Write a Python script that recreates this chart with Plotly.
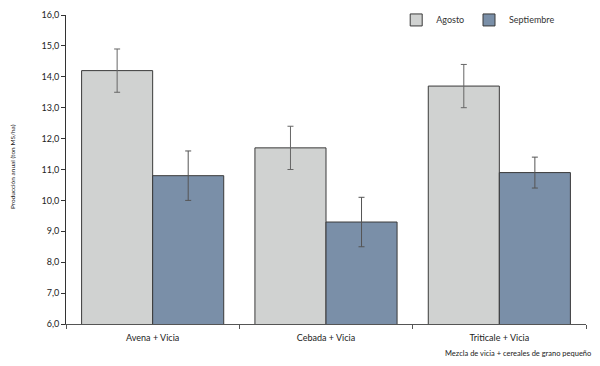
import plotly.graph_objects as go

categories = ["Avena + Vicia", "Cebada + Vicia", "Triticale + Vicia"]
agosto = [14.2, 11.7, 13.7]
agosto_err = [0.7, 0.7, 0.7]
septiembre = [10.8, 9.3, 10.9]
septiembre_err = [0.8, 0.8, 0.5]
y_ticks = [6, 7, 8, 9, 10, 11, 12, 13, 14, 15, 16]

font = dict(family="Lato, Open Sans, sans-serif", size=9, color="#222")

fig = go.Figure()
fig.add_trace(go.Bar(
    x=categories, y=agosto, name="Agosto", legend="legend",
    marker=dict(color="#d0d2d1", line=dict(color="#3a3a3a", width=1)),
    error_y=dict(type="data", array=agosto_err, color="#666", thickness=1, width=3),
))
fig.add_trace(go.Bar(
    x=categories, y=septiembre, name="Septiembre", legend="legend2",
    marker=dict(color="#7a8fa8", line=dict(color="#3a3a3a", width=1)),
    error_y=dict(type="data", array=septiembre_err, color="#555", thickness=1, width=3),
))

fig.update_layout(
    width=592, height=358,
    margin=dict(l=58, r=14, t=7, b=42, autoexpand=False),
    paper_bgcolor="white", plot_bgcolor="white",
    font=font, separators=",.",
    barmode="group", bargap=0.18, bargroupgap=0,
    showlegend=True,
    legend=dict(orientation="h", x=0.635, y=0.984, xanchor="left", yanchor="middle",
                font=dict(size=9, color="#333"), bgcolor="rgba(0,0,0,0)"),
    legend2=dict(orientation="h", x=0.775, y=0.984, xanchor="left", yanchor="middle",
                 font=dict(size=9, color="#333"), bgcolor="rgba(0,0,0,0)"),
    xaxis=dict(showline=True, linecolor="#555", linewidth=1, ticks="outside",
               tickson="boundaries", ticklen=4, tickcolor="#555", ticklabelstandoff=5,
               showgrid=False, tickfont=dict(size=9), automargin=False),
    yaxis=dict(range=[6, 16], tickvals=y_ticks, tickformat=".1f",
               showline=True, linecolor="#333", linewidth=1, ticks="outside",
               ticklen=4, tickcolor="#333", showgrid=False, zeroline=False,
               tickfont=dict(size=9), automargin=False),
    annotations=[
        dict(text="Mezcla de vicia + cereales de grano pequeño", xref="paper", yref="paper",
             x=1.0135, y=-0.094, xanchor="right", yanchor="middle", showarrow=False,
             font=dict(size=7.5)),
        dict(text="Producción anual (ton MS/ha)", xref="paper", yref="paper",
             x=-0.1025, y=0.51, xanchor="center", yanchor="middle", textangle=-90,
             showarrow=False, font=dict(size=6.5)),
    ],
)

fig.write_html("out.html")
